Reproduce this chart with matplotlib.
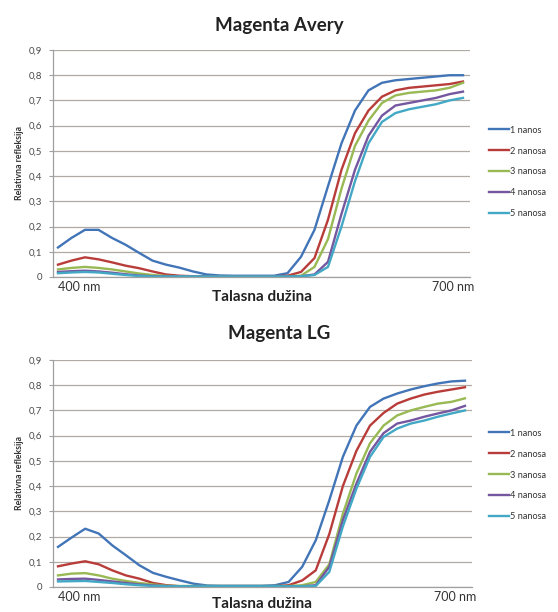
import numpy as np
import matplotlib.pyplot as plt

plt.rcParams['font.family'] = ['Lato', 'DejaVu Sans']

# talasne duzine (nm), korak 10 nm
wl = np.arange(400, 701, 10)

labels = ['1 nanos', '2 nanosa', '3 nanosa', '4 nanosa', '5 nanosa']
colors = ['#4275B8', '#B83D3A', '#98B954', '#7557A0', '#42A8C5']

# Magenta Avery - ocitane vrijednosti
avery_1 = [0.117, 0.155, 0.187, 0.187, 0.155, 0.128, 0.096, 0.065, 0.049, 0.037,
           0.022, 0.010, 0.006, 0.005, 0.005, 0.005, 0.005, 0.015, 0.080, 0.187,
           0.360, 0.530, 0.660, 0.740, 0.770, 0.780, 0.785, 0.790, 0.795, 0.800, 0.800]
avery_2 = [0.049, 0.065, 0.078, 0.070, 0.058, 0.045, 0.035, 0.022, 0.010, 0.005,
           0.003, 0.003, 0.003, 0.003, 0.003, 0.003, 0.003, 0.005, 0.020, 0.075,
           0.227, 0.425, 0.570, 0.660, 0.715, 0.740, 0.750, 0.755, 0.760, 0.765, 0.775]
avery_3 = [0.030, 0.036, 0.040, 0.036, 0.030, 0.022, 0.014, 0.008, 0.004, 0.003,
           0.003, 0.003, 0.003, 0.003, 0.003, 0.003, 0.003, 0.003, 0.005, 0.040,
           0.150, 0.350, 0.520, 0.620, 0.690, 0.720, 0.730, 0.735, 0.740, 0.750, 0.770]
avery_4 = [0.020, 0.023, 0.025, 0.022, 0.017, 0.011, 0.006, 0.003, 0.002, 0.002,
           0.002, 0.002, 0.002, 0.002, 0.002, 0.002, 0.002, 0.002, 0.003, 0.010,
           0.060, 0.250, 0.425, 0.560, 0.640, 0.680, 0.690, 0.700, 0.710, 0.725, 0.735]
avery_5 = [0.015, 0.018, 0.020, 0.018, 0.013, 0.008, 0.004, 0.002, 0.002, 0.002,
           0.002, 0.002, 0.002, 0.002, 0.002, 0.002, 0.002, 0.002, 0.003, 0.008,
           0.040, 0.200, 0.380, 0.530, 0.615, 0.650, 0.665, 0.675, 0.685, 0.700, 0.710]

# Magenta LG - ocitane vrijednosti
lg_1 = [0.159, 0.196, 0.231, 0.212, 0.165, 0.126, 0.086, 0.056, 0.040, 0.026,
        0.013, 0.006, 0.005, 0.005, 0.005, 0.005, 0.007, 0.020, 0.080, 0.185,
        0.344, 0.516, 0.640, 0.714, 0.747, 0.767, 0.783, 0.796, 0.807, 0.815, 0.818]
lg_2 = [0.082, 0.093, 0.102, 0.090, 0.066, 0.046, 0.033, 0.016, 0.007, 0.003,
        0.003, 0.003, 0.003, 0.003, 0.003, 0.003, 0.003, 0.007, 0.026, 0.066,
        0.210, 0.400, 0.540, 0.640, 0.690, 0.727, 0.747, 0.763, 0.774, 0.783, 0.792]
lg_3 = [0.046, 0.053, 0.055, 0.046, 0.033, 0.024, 0.016, 0.010, 0.005, 0.004,
        0.004, 0.004, 0.004, 0.004, 0.004, 0.004, 0.004, 0.004, 0.007, 0.020,
        0.090, 0.290, 0.450, 0.570, 0.640, 0.680, 0.700, 0.714, 0.727, 0.734, 0.748]
lg_4 = [0.030, 0.032, 0.033, 0.028, 0.022, 0.016, 0.010, 0.006, 0.004, 0.003,
        0.003, 0.003, 0.003, 0.003, 0.003, 0.003, 0.003, 0.003, 0.003, 0.007,
        0.080, 0.265, 0.410, 0.536, 0.610, 0.648, 0.660, 0.675, 0.688, 0.700, 0.718]
lg_5 = [0.022, 0.023, 0.024, 0.020, 0.016, 0.011, 0.007, 0.004, 0.003, 0.003,
        0.003, 0.003, 0.003, 0.003, 0.003, 0.003, 0.003, 0.003, 0.003, 0.004,
        0.060, 0.240, 0.390, 0.516, 0.595, 0.628, 0.648, 0.660, 0.675, 0.688, 0.700]

y_ticks = np.arange(0, 0.91, 0.1)
y_labels = ['0', '0,1', '0,2', '0,3', '0,4', '0,5', '0,6', '0,7', '0,8', '0,9']

W, H = 558, 612
fig = plt.figure(figsize=(W / 100, H / 100), dpi=100)


def crtaj(rect, serije, naslov, title_y, xlabel_y, leg_y):
    ax = fig.add_axes(rect)
    for s, lab, c in zip(serije, labels, colors):
        ax.plot(wl, s, color=c, lw=1.7, label=lab, solid_joinstyle='round')
    ax.set_xlim(396.3, 705.2)
    ax.set_ylim(0, 0.9)
    ax.set_yticks(y_ticks)
    ax.set_yticklabels(y_labels, fontsize=7, color='#4a4a4a')
    ax.set_xticks([416, 693])
    ax.set_xticklabels(['400 nm', '700 nm'], fontsize=9, color='#333333')
    ax.tick_params(axis='x', length=0, pad=3)
    ax.tick_params(axis='y', length=3, color='#a0a0a0', pad=5)
    ax.grid(axis='y', color='#b0aaa5', lw=0.9)
    ax.set_axisbelow(True)
    for sp in ['top', 'right']:
        ax.spines[sp].set_visible(False)
    for sp in ['left', 'bottom']:
        ax.spines[sp].set_color('#a0a0a0')
        ax.spines[sp].set_linewidth(0.9)
    ax.set_ylabel('Relativna refleksija', fontsize=6.3, fontweight='bold',
                  color='#333333', labelpad=3)
    fig.text(279 / W, 1 - title_y / H, naslov, ha='center', va='center',
             fontsize=13.5, fontweight='bold', color='#222222')
    fig.text(262 / W, 1 - xlabel_y / H, 'Talasna dužina', ha='center', va='center',
             fontsize=11, fontweight='bold', color='#222222')
    ax.legend(loc='center left', bbox_to_anchor=(484 / W, 1 - leg_y / H),
              bbox_transform=fig.transFigure, frameon=False, fontsize=6.6,
              handlelength=2.2, handletextpad=0.1, labelspacing=1.3,
              borderpad=0, labelcolor='#333333')
    return ax


crtaj([53 / W, 1 - 277 / H, 417 / W, 227 / H],
      [avery_1, avery_2, avery_3, avery_4, avery_5],
      'Magenta Avery', 25, 297, 172)
crtaj([53 / W, 1 - 587 / H, 419 / W, 227 / H],
      [lg_1, lg_2, lg_3, lg_4, lg_5],
      'Magenta LG', 333, 604, 475)

fig.savefig('out.png', dpi=100)
